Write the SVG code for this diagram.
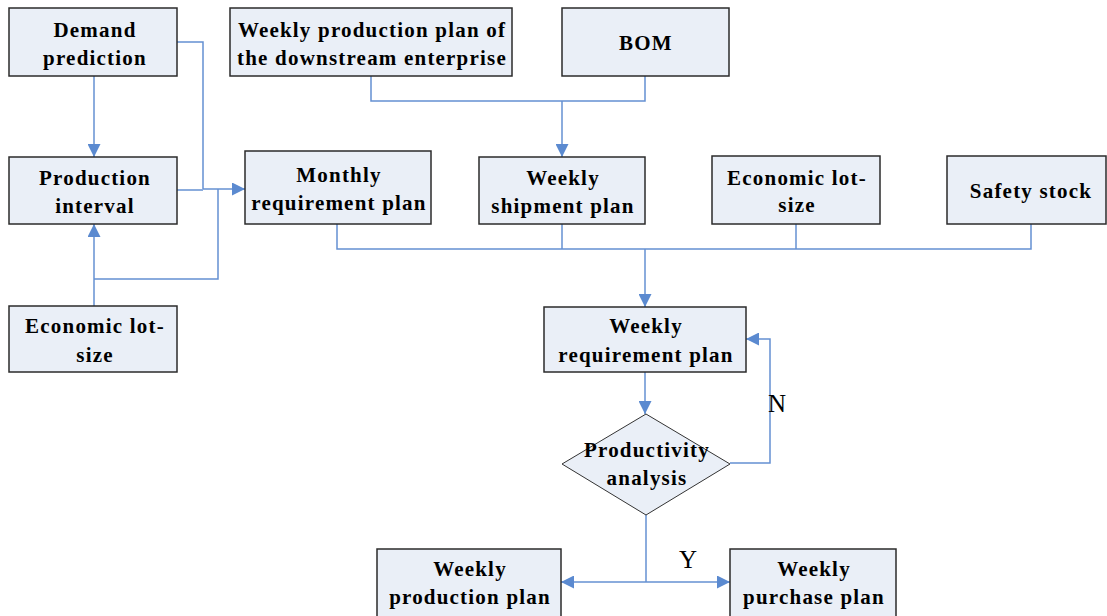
<svg xmlns="http://www.w3.org/2000/svg" width="1107" height="616" viewBox="0 0 1107 616">
<style>
.box{fill:#eaeff7;stroke:#2b2b2b;stroke-width:1.5}
.t{font-family:"Liberation Serif","Times New Roman",serif;font-weight:bold;font-size:21px;letter-spacing:1.2px;fill:#000;text-anchor:middle}
.lbl{font-family:"Liberation Serif","Times New Roman",serif;font-size:25px;fill:#000;text-anchor:middle}
.c{fill:none;stroke:#6490d2;stroke-width:1.5}
</style>
<defs>
<marker id="ah" viewBox="0 0 10 10" refX="10" refY="5" markerWidth="14" markerHeight="13" markerUnits="userSpaceOnUse" orient="auto">
<path d="M0,0 L10,5 L0,10 z" fill="#5b8ad0"/>
</marker>
</defs>
<rect width="1107" height="616" fill="#fff"/>
<g id="connectors">
<path class="c" d="M94,76 V157" marker-end="url(#ah)"/>
<path class="c" d="M177,42 H203 V189"/>
<path class="c" d="M177,190 H203"/>
<path class="c" d="M94,306 V224" marker-end="url(#ah)"/>
<path class="c" d="M94,279 H218 V189"/>
<path class="c" d="M203,189 H245" marker-end="url(#ah)"/>
<path class="c" d="M371,76 V101 H645 V76"/>
<path class="c" d="M562,101 V157" marker-end="url(#ah)"/>
<path class="c" d="M337,224 V249 H1031 V224"/>
<path class="c" d="M562,224 V249"/>
<path class="c" d="M796,224 V249"/>
<path class="c" d="M645,249 V307" marker-end="url(#ah)"/>
<path class="c" d="M645,372 V414" marker-end="url(#ah)"/>
<path class="c" d="M730,463 H770 V339 H746" marker-end="url(#ah)"/>
<path class="c" d="M646,515 V582"/>
<path class="c" d="M646,582 H561" marker-end="url(#ah)"/>
<path class="c" d="M646,582 H730" marker-end="url(#ah)"/>
<text class="lbl" x="777" y="412">N</text>
<text class="lbl" x="688" y="568">Y</text>
</g>
<g id="demand-prediction">
<rect class="box" x="9" y="8" width="168" height="68"/>
<text class="t" x="95" y="37">Demand</text>
<text class="t" x="95" y="65">prediction</text>
</g>
<g id="production-interval">
<rect class="box" x="9" y="157" width="168" height="67"/>
<text class="t" x="95" y="185">Production</text>
<text class="t" x="95" y="213">interval</text>
</g>
<g id="economic-lot-size-left">
<rect class="box" x="9" y="306" width="168" height="66"/>
<text class="t" x="95" y="333">Economic lot-</text>
<text class="t" x="95" y="362">size</text>
</g>
<g id="monthly-requirement-plan">
<rect class="box" x="245" y="151" width="186" height="73"/>
<text class="t" x="339" y="182">Monthly</text>
<text class="t" x="339" y="210">requirement plan</text>
</g>
<g id="weekly-production-plan-downstream">
<rect class="box" x="230" y="8" width="282" height="68"/>
<text class="t" x="372" y="37">Weekly production plan of</text>
<text class="t" x="372" y="65">the downstream enterprise</text>
</g>
<g id="bom">
<rect class="box" x="562" y="8" width="167" height="68"/>
<text class="t" x="646" y="50">BOM</text>
</g>
<g id="weekly-shipment-plan">
<rect class="box" x="479" y="157" width="166" height="67"/>
<text class="t" x="563" y="185">Weekly</text>
<text class="t" x="563" y="213">shipment plan</text>
</g>
<g id="economic-lot-size-mid">
<rect class="box" x="712" y="156" width="168" height="68"/>
<text class="t" x="797" y="185">Economic lot-</text>
<text class="t" x="797" y="212">size</text>
</g>
<g id="safety-stock">
<rect class="box" x="947" y="156" width="159" height="68"/>
<text class="t" x="1031" y="198">Safety stock</text>
</g>
<g id="weekly-requirement-plan">
<rect class="box" x="544" y="307" width="202" height="65"/>
<text class="t" x="646" y="333">Weekly</text>
<text class="t" x="646" y="362">requirement plan</text>
</g>
<g id="productivity-analysis">
<path d="M646,414 L730,464 L646,515 L562,464 Z" fill="#eaeff7" stroke="#333" stroke-width="1"/>
<text class="t" x="647" y="457">Productivity</text>
<text class="t" x="647" y="485">analysis</text>
</g>
<g id="weekly-production-plan">
<rect class="box" x="377" y="549" width="184" height="68"/>
<text class="t" x="470" y="576">Weekly</text>
<text class="t" x="470" y="604">production plan</text>
</g>
<g id="weekly-purchase-plan">
<rect class="box" x="730" y="549" width="166" height="68"/>
<text class="t" x="814" y="576">Weekly</text>
<text class="t" x="814" y="604">purchase plan</text>
</g>
</svg>
